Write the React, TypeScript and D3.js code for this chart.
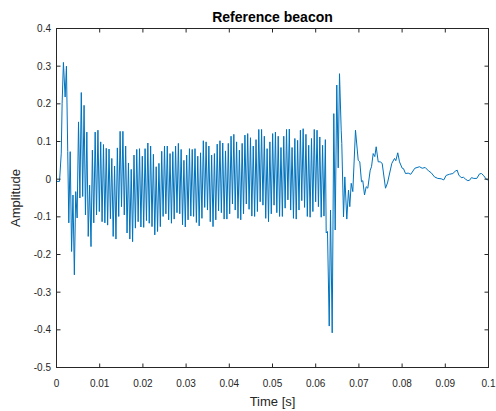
import React from "react";
import { scaleLinear, line } from "d3";

// onset of the beacon (time in s, amplitude)
const onsetTime = [0, 0.0007, 0.0011, 0.0013, 0.0016, 0.002, 0.0023, 0.0026];
const onsetAmp = [-0.006, -0.006, 0.069, 0.2, 0.31, 0.218, 0.3, 0.073];

// carrier part: alternating troughs / peaks, one every oscStep seconds
const oscStart = 0.00285;
const oscStep = 0.000321;
const oscAmp = [
  -0.116, 0.073, -0.192, -0.042, -0.254, -0.033, -0.103, 0.152, -0.05, 0.23,
  -0.046, 0.196, -0.095, 0.125, -0.152, -0.016, -0.179, 0.077, -0.116, 0.125,
  -0.095, 0.13, -0.086, 0.099, -0.113, 0.092, -0.116, 0.082, -0.122, 0.08, -0.105,
  0.055, -0.152, 0.035, -0.159, 0.083, -0.099, 0.127, -0.073, 0.127, -0.095,
  0.088, -0.143, 0.043, -0.159, 0.026, -0.166, 0.064, -0.13, 0.079, -0.113,
  0.081, -0.127, 0.061, -0.128, 0.081, -0.11, 0.096, -0.117, 0.088, -0.126,
  0.066, -0.148, 0.033, -0.139, 0.042, -0.126, 0.074, -0.099, 0.088, -0.092,
  0.088, -0.108,
  0.068, -0.117, 0.073, -0.106, 0.088, -0.089, 0.095, -0.092, 0.079, -0.121,
  0.05, -0.127, 0.064, -0.108, 0.081, -0.098, 0.079, -0.099, 0.081, -0.115,
  0.061, -0.124, 0.07, -0.104, 0.102, -0.075, 0.099, -0.082, 0.088, -0.113,
  0.064, -0.126, 0.068, -0.108, 0.093, -0.084, 0.102, -0.089, 0.096, -0.106,
  0.075, -0.106,
  0.095, -0.092, 0.114, -0.066, 0.119, -0.082, 0.099, -0.104, 0.077, -0.108,
  0.095, -0.092, 0.117, -0.066, 0.121, -0.08, 0.11, -0.098, 0.088, -0.099,
  0.105, -0.086, 0.132, -0.06, 0.132, -0.069, 0.114, -0.104, 0.081, -0.113,
  0.099, -0.092, 0.121, -0.069, 0.125, -0.089, 0.114, -0.099, 0.084, -0.099,
  0.114, -0.077,
  0.132, -0.055, 0.133, -0.082, 0.084, -0.104, 0.108, -0.106, 0.103, -0.082,
  0.13, -0.057, 0.134, -0.075, 0.119, -0.099, 0.09, -0.101, 0.108, -0.086,
  0.132, -0.06, 0.13, -0.073, 0.112, -0.101, 0.09, -0.098, 0.105,
];

// echo burst
const burstTime = [
  0.06243, 0.06273, 0.06313, 0.06343, 0.06382, 0.06419, 0.06451, 0.06488,
  0.06521, 0.06551, 0.0659, 0.06604, 0.06644, 0.06674, 0.0672, 0.06759,
  0.06789, 0.06822, 0.06859, 0.06921, 0.06984, 0.07021, 0.0706, 0.0709,
  0.0713, 0.07169, 0.07206, 0.07262, 0.07292, 0.07331, 0.07368, 0.074,
  0.07447, 0.07493, 0.07539, 0.07616, 0.07662,
];
const burstAmp = [
  -0.143, -0.139, -0.39, -0.082, -0.408, 0.174, -0.135, 0.25, 0.03, 0.28,
  0.13, 0.095, -0.1, 0.006, -0.106, -0.029, -0.073, -0.011, -0.033, 0.13,
  0.05, 0.046, -0.007, -0.004, -0.042, -0.02, -0.024, 0.024, 0.033, 0.068,
  0.06, 0.086, 0.046, 0.046, 0.042, -0.024, -0.01,
];

// decaying tail
const tailTime = [
  0.07762, 0.07824, 0.07854, 0.079, 0.0794, 0.08002, 0.08032, 0.08079,
  0.08141, 0.08201, 0.08294, 0.08403, 0.08465, 0.08535, 0.08611, 0.08674,
  0.0875, 0.08826, 0.08905, 0.08965, 0.0902, 0.09097, 0.09174, 0.09229,
  0.09275, 0.09312, 0.09368, 0.09421, 0.09468, 0.09521, 0.0956, 0.09606,
  0.0966, 0.09729, 0.09792, 0.09838, 0.09891, 0.09947, 0.1,
];
const tailAmp = [
  0.042, 0.055, 0.049, 0.07, 0.046, 0.029, 0.028, 0.015, 0.016, 0.013,
  0.029, 0.033, 0.029, 0.031, 0.022, 0.017, 0.006, 0.002, 0.001, -0.002,
  0.01, 0.013, 0.015, 0.021, 0.024, 0.011, 0.004, 0.005, 0.0, -0.004,
  -0.003, 0.004, 0.002, 0.002, 0.014, 0.015, 0.009, 0.0, -0.003,
];

const xTicks = [0, 0.01, 0.02, 0.03, 0.04, 0.05, 0.06, 0.07, 0.08, 0.09, 0.1];
const yTicks = [-0.5, -0.4, -0.3, -0.2, -0.1, 0, 0.1, 0.2, 0.3, 0.4];

const W = 496;
const H = 411;
const FONT = "'Liberation Sans', Arial, Helvetica, sans-serif";
const AXIS = "#262626";

export default function App() {
  const x = scaleLinear().domain([0, 0.1]).range([56.5, 488.5]);
  const y = scaleLinear().domain([-0.5, 0.4]).range([367.5, 28.5]);

  const pts: [number, number][] = [];
  onsetTime.forEach((t, i) => pts.push([t, onsetAmp[i]]));
  oscAmp.forEach((a, i) => pts.push([oscStart + i * oscStep, a]));
  burstTime.forEach((t, i) => pts.push([t, burstAmp[i]]));
  tailTime.forEach((t, i) => pts.push([t, tailAmp[i]]));

  const path = line<[number, number]>()
    .x((d) => x(d[0]))
    .y((d) => y(d[1]))(pts);

  const [x0, x1] = x.range();
  const [y0, y1] = y.range();
  const tl = 4;

  return (
    <svg width={W} height={H} style={{ position: "absolute", left: 0, top: 0, background: "#fff" }}>
      <rect x={0} y={0} width={W} height={H} fill="#fff" />
      <path d={path || ""} fill="none" stroke="#0072BD" strokeWidth={1} strokeLinejoin="round" />

      {/* box */}
      <rect x={x0} y={y1} width={x1 - x0} height={y0 - y1} fill="none" stroke={AXIS} strokeWidth={1} />

      {xTicks.map((t) => (
        <g key={"x" + t}>
          <line x1={x(t)} x2={x(t)} y1={y0} y2={y0 - tl} stroke={AXIS} />
          <line x1={x(t)} x2={x(t)} y1={y1} y2={y1 + tl} stroke={AXIS} />
          <text x={x(t)} y={387} textAnchor="middle" fontFamily={FONT} fontSize={10} fill={AXIS}>
            {String(t)}
          </text>
        </g>
      ))}
      {yTicks.map((t) => (
        <g key={"y" + t}>
          <line x1={x0} x2={x0 + tl} y1={y(t)} y2={y(t)} stroke={AXIS} />
          <line x1={x1} x2={x1 - tl} y1={y(t)} y2={y(t)} stroke={AXIS} />
          <text x={51} y={y(t) + 3.5} textAnchor="end" fontFamily={FONT} fontSize={10} fill={AXIS}>
            {String(Math.round(t * 10) / 10)}
          </text>
        </g>
      ))}

      <text x={(x0 + x1) / 2} y={22} textAnchor="middle" fontFamily={FONT} fontSize={14} fontWeight="bold" fill="#000">
        Reference beacon
      </text>
      <text x={(x0 + x1) / 2} y={406} textAnchor="middle" fontFamily={FONT} fontSize={13} fill={AXIS}>
        Time [s]
      </text>
      <text
        transform={`translate(20,${(y0 + y1) / 2}) rotate(-90)`}
        textAnchor="middle"
        fontFamily={FONT}
        fontSize={13}
        fill={AXIS}
      >
        Amplitude
      </text>
    </svg>
  );
}
